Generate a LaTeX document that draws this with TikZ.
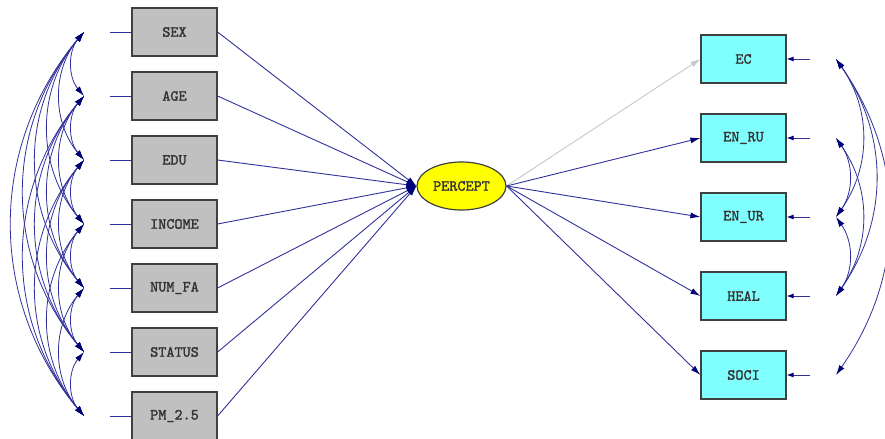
\documentclass[tikz,border=0pt]{standalone}
\usepackage{fontspec}
\newfontfamily\amosfont{lmmono10-regular.otf}[AutoFakeBold=1.6]
\usetikzlibrary{arrows.meta,shapes.geometric}
\definecolor{lnc}{RGB}{50,50,155}
\definecolor{tipc}{RGB}{0,0,120}
\definecolor{boxgray}{RGB}{192,192,192}
\definecolor{boxcyan}{RGB}{128,255,255}
\definecolor{yel}{RGB}{255,255,0}
\definecolor{lightarrow}{RGB}{200,200,200}
\begin{document}
\begin{tikzpicture}[x=1bp,y=-1bp,
  lbl/.style={font=\amosfont\bfseries\fontsize{15.5}{16}\selectfont, text=black!80},
  obsbox/.style={lbl, draw=black!75, line width=1.2bp, fill=boxgray, minimum width=85bp, minimum height=48bp, inner sep=0pt},
  endobox/.style={obsbox, fill=boxcyan},
  latent/.style={lbl, ellipse, draw=black!75, line width=1.2bp, fill=yel, minimum width=89bp, minimum height=48bp, inner sep=0pt},
  reg/.style={draw=lnc, line width=0.9bp, -{Latex[length=10bp,width=6bp,color=tipc]}},
  greyreg/.style={draw=lightarrow, line width=0.9bp, -{Latex[length=10bp,width=6bp,color=lightarrow]}},
  stub/.style={draw=lnc, line width=0.9bp},
  covl/.style={draw=lnc, line width=0.8bp, {Latex[length=10bp,width=6bp,color=tipc]}-{Latex[length=10bp,width=6bp,color=tipc]}, bend right=40},
  covr/.style={draw=lnc, line width=0.8bp, {Latex[length=10bp,width=6bp,color=tipc]}-{Latex[length=10bp,width=6bp,color=tipc]}, bend left=35},
  errarrow/.style={draw=lnc, line width=0.9bp, -{Latex[length=7bp,width=5bp,color=tipc]}}
]
\useasboundingbox (0,0) rectangle (885,439);
\fill[white] (0,0) rectangle (885,439);

% left observed variables
\foreach \n/\t/\y [count=\i] in {sex/SEX/32, age/AGE/96, edu/EDU/160, inc/INCOME/224, num/NUM\_FA/288, sta/STATUS/352, pm/PM\_2.5/416}{
  \node[obsbox] (\n) at (174.5,\y) {\t};
  \coordinate (s\i) at (110,\y);
  \coordinate (l\i) at (84,\y);
}
% latent
\node[latent] (per) at (461.5,186) {PERCEPT};

% right endogenous variables
\foreach \n/\t/\y [count=\i] in {ec/EC/59, enru/EN\_RU/138, enur/EN\_UR/217, heal/HEAL/296, soci/SOCI/375}{
  \node[endobox] (\n) at (743.5,\y) {\t};
  \coordinate (rs\i) at (810,\y);
  \coordinate (r\i) at (836,\y);
}

% stubs on the left
\foreach \n [count=\i] in {sex,age,edu,inc,num,sta,pm}{
  \draw[stub] (s\i) -- (\n.west);
}
% regression paths into PERCEPT
\foreach \n in {sex,age,edu,inc,num,sta,pm}{
  \draw[reg] (\n.east) -- (per.west);
}
% paths out of PERCEPT
\draw[greyreg] (per.east) -- (ec.west);
\foreach \n in {enru,enur,heal,soci}{
  \draw[reg] (per.east) -- (\n.west);
}
% error stubs on the right
\foreach \n [count=\i] in {ec,enru,enur,heal,soci}{
  \draw[errarrow] (rs\i) -- (\n.east);
}

% covariances on the left (all pairs)
\foreach \i in {1,...,6}{
  \pgfmathtruncatemacro{\s}{\i+1}
  \foreach \j in {\s,...,7}{
    \draw[covl] (l\i) to (l\j);
  }
}
% covariances on the right
\draw[covr] (r1) to (r3);
\draw[covr] (r1) to (r4);
\draw[covr] (r1) to (r5);
\draw[covr] (r2) to (r3);
\draw[covr] (r2) to (r4);
\draw[covr] (r3) to (r4);
\end{tikzpicture}
\end{document}
